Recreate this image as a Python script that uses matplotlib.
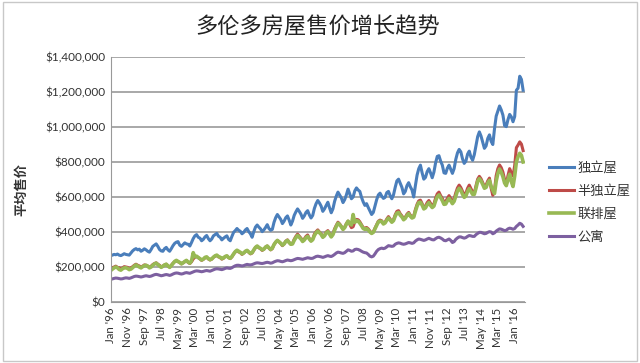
import matplotlib
matplotlib.use('Agg')
import matplotlib.pyplot as plt
from matplotlib.patches import Rectangle

# monthly average sale price, thousands of dollars, Jan 1996 - Jun 2016
detached = [
    265, 268, 272, 270, 274, 268, 265, 270, 276, 272, 270, 268,
    280, 292, 300, 305, 298, 302, 290, 296, 304, 298, 290, 285,
    300, 318, 325, 332, 318, 300, 292, 290, 305, 312, 298, 290,
    305, 322, 335, 342, 345, 325, 318, 328, 338, 332, 330, 320,
    340, 362, 378, 385, 370, 365, 350, 358, 372, 380, 362, 350,
    360, 378, 385, 392, 376, 370, 355, 364, 372, 378, 358, 350,
    375, 398, 408, 420, 410, 404, 390, 398, 412, 420, 402, 390,
    370, 402, 428, 440, 428, 418, 402, 412, 426, 442, 420, 410,
    415, 455, 482, 500, 486, 472, 448, 462, 482, 492, 468, 440,
    462, 495, 515, 532, 518, 502, 478, 492, 512, 522, 498, 480,
    495, 535, 562, 580, 566, 548, 518, 532, 552, 570, 538, 510,
    532, 575, 605, 628, 612, 595, 568, 585, 612, 645, 618, 590,
    600, 635, 652, 640, 632, 598, 572, 552, 562, 540, 520, 500,
    512, 548, 585, 612, 622, 605, 592, 598, 625, 632, 608, 590,
    612, 655, 692, 702, 678, 655, 618, 632, 665, 682, 658, 640,
    600, 665, 725, 762, 782, 738, 702, 712, 745, 762, 738, 710,
    742, 795, 832, 836, 805, 782, 738, 735, 765, 782, 758, 735,
    762, 815, 852, 872, 858, 818, 792, 805, 845, 862, 828, 810,
    842, 895, 945, 972, 948, 912, 878, 892, 935, 955, 918, 900,
    990, 1062, 1092, 1120, 1098, 1068, 1008, 1002, 1042, 1072, 1058, 1030,
    1060, 1210, 1222, 1290, 1272, 1210,
]
semi = [
    190, 196, 200, 205, 198, 196, 190, 195, 202, 200, 198, 192,
    195, 202, 210, 216, 210, 206, 200, 205, 212, 210, 205, 198,
    205, 214, 220, 224, 216, 210, 200, 206, 212, 216, 206, 200,
    210, 222, 230, 236, 230, 226, 218, 224, 230, 236, 226, 220,
    230, 246, 256, 260, 254, 246, 238, 244, 252, 256, 246, 240,
    245, 256, 262, 266, 258, 254, 245, 250, 260, 262, 254, 248,
    258, 274, 286, 292, 286, 282, 272, 280, 288, 294, 284, 275,
    280, 296, 312, 318, 310, 304, 295, 302, 314, 320, 308, 298,
    305, 328, 342, 352, 344, 334, 322, 332, 348, 355, 340, 330,
    335, 358, 375, 388, 376, 365, 350, 360, 375, 383, 362, 350,
    360, 388, 402, 412, 400, 390, 372, 382, 400, 408, 390, 375,
    390, 418, 438, 456, 446, 432, 415, 428, 448, 462, 444, 425,
    430, 458, 472, 470, 458, 442, 425, 422, 426, 418, 405, 395,
    400, 422, 442, 462, 468, 464, 450, 456, 474, 488, 474, 460,
    470, 498, 518, 522, 504, 492, 475, 484, 502, 512, 496, 488,
    490, 528, 558, 578, 582, 562, 540, 548, 568, 580, 564, 550,
    560, 594, 618, 628, 608, 592, 570, 575, 592, 608, 590, 575,
    590, 624, 652, 668, 654, 632, 612, 622, 650, 668, 648, 630,
    620, 664, 702, 718, 704, 682, 660, 668, 692, 708, 650, 610,
    640, 722, 762, 783, 768, 742, 700, 668, 722, 762, 738, 720,
    780, 882, 897, 915, 902, 865,
]
town = [
    180, 188, 195, 200, 196, 186, 182, 190, 195, 196, 192, 185,
    188, 196, 205, 212, 206, 200, 195, 202, 208, 210, 205, 195,
    200, 210, 218, 222, 214, 206, 198, 204, 212, 216, 206, 198,
    208, 220, 232, 238, 232, 226, 218, 224, 232, 238, 228, 222,
    235, 282, 258, 262, 254, 248, 240, 245, 255, 258, 248, 242,
    246, 256, 264, 268, 260, 256, 248, 252, 260, 264, 254, 250,
    260, 275, 288, 296, 290, 284, 275, 280, 290, 295, 286, 278,
    282, 298, 312, 320, 312, 306, 298, 302, 314, 320, 310, 300,
    308, 328, 342, 352, 344, 336, 325, 332, 346, 352, 340, 330,
    332, 352, 368, 380, 370, 360, 346, 354, 368, 375, 360, 348,
    356, 380, 396, 405, 396, 386, 370, 378, 395, 402, 388, 372,
    385, 410, 432, 450, 442, 430, 415, 425, 445, 462, 448, 440,
    500, 455, 465, 462, 450, 436, 420, 415, 420, 412, 400, 392,
    398, 418, 438, 458, 462, 460, 446, 452, 468, 480, 468, 456,
    465, 490, 508, 512, 496, 486, 470, 478, 495, 505, 490, 480,
    485, 518, 548, 568, 570, 554, 532, 538, 556, 568, 552, 540,
    548, 578, 602, 612, 596, 580, 558, 560, 578, 592, 578, 562,
    575, 605, 635, 650, 638, 616, 598, 606, 632, 648, 632, 615,
    615, 650, 690, 705, 692, 672, 650, 655, 680, 695, 662, 638,
    620, 690, 735, 760, 742, 716, 680, 665, 700, 730, 688, 660,
    720, 800, 830, 850, 838, 800,
]
condo = [
    130, 132, 135, 137, 136, 134, 132, 133, 136, 138, 137, 135,
    138, 142, 146, 148, 147, 145, 143, 145, 148, 150, 148, 146,
    148, 152, 156, 158, 156, 153, 150, 152, 155, 157, 155, 152,
    155, 160, 164, 166, 165, 162, 160, 162, 166, 168, 166, 164,
    168, 172, 176, 178, 177, 175, 173, 175, 178, 180, 178, 176,
    180, 184, 188, 190, 189, 187, 185, 188, 192, 195, 193, 192,
    196, 202, 207, 210, 210, 208, 206, 208, 212, 215, 213, 212,
    214, 218, 222, 224, 223, 221, 220, 222, 225, 227, 225, 222,
    224, 229, 233, 236, 235, 232, 230, 233, 237, 240, 238, 236,
    238, 242, 246, 249, 248, 246, 244, 247, 250, 253, 251, 249,
    250, 255, 260, 262, 260, 258, 255, 258, 262, 265, 262, 260,
    265, 272, 280, 285, 283, 280, 278, 282, 290, 298, 295, 290,
    292, 300, 302, 300, 296, 290, 285, 282, 280, 272, 262, 258,
    262, 275, 290, 300, 305, 308, 305, 308, 315, 322, 320, 318,
    320, 330, 335, 338, 336, 332, 330, 332, 336, 340, 338, 335,
    338, 348, 355, 360, 358, 355, 352, 355, 360, 364, 360, 356,
    355, 362, 368, 370, 366, 360, 352, 350, 355, 360, 352, 340,
    345, 358, 366, 372, 372, 368, 365, 368, 375, 380, 378, 375,
    375, 385, 392, 398, 398, 394, 390, 392, 398, 402, 400, 390,
    395, 405, 412, 418, 416, 412, 408, 410, 418, 422, 420, 416,
    420, 432, 440, 450, 445, 432,
]
series_names = ['独立屋', '半独立屋', '联排屋', '公寓']
series_colors = ['#4A7EBB', '#BE4B48', '#98B954', '#7D60A0']
month_names = ['Jan', 'Feb', 'Mar', 'Apr', 'May', 'Jun',
               'Jul', 'Aug', 'Sep', 'Oct', 'Nov', 'Dec']
start_year = 1996
y_ticks = [0, 200, 400, 600, 800, 1000, 1200, 1400]

n = len(detached)
x = list(range(n))
labels = [f"{month_names[i % 12]} '{(start_year + i // 12) % 100:02d}" for i in range(n)]

CJK = ['Noto Sans CJK SC', 'DejaVu Sans']
plt.rcParams['font.family'] = ['Lato', 'DejaVu Sans']

fig = plt.figure(figsize=(6.4, 3.63), dpi=100)
ax = fig.add_axes([0.173, 0.168, 0.647, 0.675])
fig.patches.append(Rectangle((0.004, 0.005), 0.992, 0.99, transform=fig.transFigure,
                             fill=False, edgecolor='#c8c8c8', linewidth=1.0))

for vals, name, col in zip([detached, semi, town, condo], series_names, series_colors):
    lw = 2.6 if name == '联排屋' else 2.2
    ax.plot(x, vals, color=col, linewidth=lw, label=name, solid_joinstyle='round')

ax.set_ylim(0, 1400)
ax.set_xlim(0, n)
ax.set_yticks(y_ticks)
ax.set_yticklabels([f'${v * 1000:,.0f}' for v in y_ticks], fontsize=8.5, color='#333333')
ax.set_xticks(x[::10])
ax.set_xticklabels(labels[::10], rotation=90, fontsize=8.3, color='#333333')
ax.tick_params(length=0, pad=4)
ax.grid(axis='y', color='#999999', linewidth=1.2)
ax.set_axisbelow(True)
for s in ['top', 'right']:
    ax.spines[s].set_visible(False)
ax.spines['left'].set_color('#999999')
ax.spines['bottom'].set_color('#999999')

ax.set_ylabel('平均售价', family=CJK, fontsize=9.5, fontweight='bold', color='#333333')
ax.yaxis.set_label_coords(-0.2, 0.46)

fig.text(0.497, 0.925, '多伦多房屋售价增长趋势', family=CJK, fontsize=16,
         ha='center', va='center', color='#222222')

leg = ax.legend(loc='center left', bbox_to_anchor=(1.03, 0.405), frameon=False,
                prop={'family': CJK, 'size': 9.5}, handlelength=1.9,
                handletextpad=0.25, labelspacing=0.75)
for t in leg.get_texts():
    t.set_color('#333333')

fig.savefig('out.png', dpi=100, facecolor='white')
